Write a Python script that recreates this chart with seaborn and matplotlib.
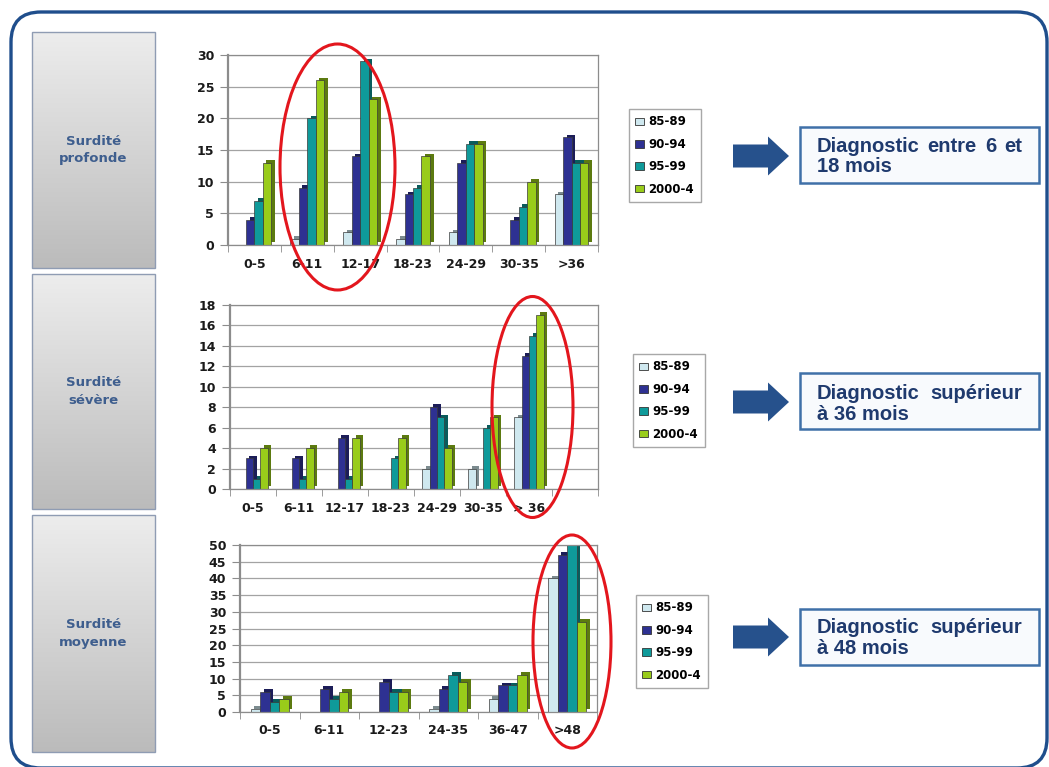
import numpy as np
import pandas as pd
import matplotlib
matplotlib.use("Agg")
import matplotlib.pyplot as plt
import matplotlib.patheffects as pe
from matplotlib.patches import FancyBboxPatch, Ellipse, FancyArrow, Rectangle, Patch
from matplotlib.colors import to_rgb, LinearSegmentedColormap
import seaborn as sns

# ---------------------------------------------------------------- data
periods = ["85-89", "90-94", "95-99", "2000-4"]
palette = ["#CFE8EF", "#2E3192", "#0F9A9A", "#99CC1A"]

prof_cats = ["0-5", "6-11", "12-17", "18-23", "24-29", "30-35", ">36"]
prof_8589 = [0, 1, 2, 1, 2, 0, 8]
prof_9094 = [4, 9, 14, 8, 13, 4, 17]
prof_9599 = [7, 20, 29, 9, 16, 6, 13]
prof_2000 = [13, 26, 23, 14, 16, 10, 13]

sev_cats = ["0-5", "6-11", "12-17", "18-23", "24-29", "30-35", "> 36", " "]
sev_8589 = [0, 0, 0, 0, 2, 2, 7, 0]
sev_9094 = [3, 3, 5, 0, 8, 0, 13, 0]
sev_9599 = [1, 1, 1, 3, 7, 6, 15, 0]
sev_2000 = [4, 4, 5, 5, 4, 7, 17, 0]

moy_cats = ["0-5", "6-11", "12-23", "24-35", "36-47", ">48"]
moy_8589 = [1, 0, 0, 1, 4, 40]
moy_9094 = [6, 7, 9, 7, 8, 47]
moy_9599 = [3, 4, 6, 11, 8, 50]
moy_2000 = [4, 6, 6, 9, 11, 27]

row_labels = ["Surdité\nprofonde", "Surdité\nsévère", "Surdité\nmoyenne"]
notes = [("Diagnostic entre 6 et", "18 mois"),
         ("Diagnostic supérieur", "à 36 mois"),
         ("Diagnostic supérieur", "à 48 mois")]

# ---------------------------------------------------------------- layout
W, H = 1049, 767
fig = plt.figure(figsize=(W / 100, H / 100), dpi=100)
fig.patch.set_facecolor("white")

NAVY = "#1F4E8C"
TXT = "#1F3A6E"


def px_axes(x0, y0, x1, y1, **kw):
    return fig.add_axes([x0 / W, 1 - y1 / H, (x1 - x0) / W, (y1 - y0) / H], **kw)


# background layer in pixel units
bg = px_axes(0, 0, W, H, zorder=0)
bg.set_xlim(0, W)
bg.set_ylim(H, 0)
bg.axis("off")

grey_grad = LinearSegmentedColormap.from_list("g", ["#EDEDED", "#BBBBBB"])
grad = np.linspace(0, 1, 256).reshape(-1, 1)
label_boxes = [(32, 32, 155, 268), (32, 274, 155, 509), (32, 515, 155, 752)]
for (x0, y0, x1, y1), lab in zip(label_boxes, row_labels):
    bg.imshow(grad, extent=(x0, x1, y1, y0), aspect="auto", cmap=grey_grad,
              origin="upper", zorder=1)
    bg.add_patch(Rectangle((x0, y0), x1 - x0, y1 - y0, fill=False,
                           ec="#8F9CB3", lw=1.0, zorder=2))
    bg.text((x0 + x1) / 2, (y0 + y1) / 2, lab, ha="center", va="center",
            fontsize=9.5, fontweight="bold", color="#3E5E8E",
            linespacing=1.45, zorder=3)

bg.add_patch(FancyBboxPatch((11, 12), 1036, 756,
                            boxstyle="round,pad=0,rounding_size=30",
                            fill=False, ec=NAVY, lw=2.4, zorder=4))
bg.set_xlim(0, W)
bg.set_ylim(H, 0)

legend_handles = [Patch(facecolor=c, edgecolor="#333333", lw=0.6) for c in palette]


def draw_chart(box, cats, series, ymax, step, legend_xy):
    ax = px_axes(*box, zorder=2)
    df = pd.DataFrame({
        "age": np.tile(cats, len(periods)),
        "period": np.repeat(periods, len(cats)),
        "n": np.concatenate(series),
    })
    sns.barplot(data=df, x="age", y="n", hue="period", order=cats,
                hue_order=periods, palette=palette, saturation=1,
                width=0.64, errorbar=None, edgecolor="#3A3A3A",
                linewidth=0.5, legend=False, ax=ax)
    # pseudo-3D depth on each bar
    for bar in ax.patches:
        r, g, b = to_rgb(bar.get_facecolor())
        dark = (r * 0.6, g * 0.6, b * 0.6)
        bar.set_path_effects([
            pe.SimplePatchShadow(offset=(2.6, 2.0), shadow_rgbFace=dark, alpha=1),
            pe.Normal()])
    n = len(cats)
    ax.set_xlim(-0.5, n - 0.5)
    ax.set_ylim(0, ymax)
    ax.set_yticks(np.arange(0, ymax + 0.1, step))
    ax.set_xticks(range(n))
    ax.set_xticklabels(cats)
    ax.set_xticks(np.arange(-0.5, n), minor=True)
    ax.tick_params(axis="x", which="major", length=0, pad=9,
                   labelsize=9, labelcolor="#1A1A1A")
    ax.tick_params(axis="x", which="minor", length=5, color="#8C8C8C")
    ax.tick_params(axis="y", length=6, color="#8C8C8C", pad=4,
                   labelsize=9, labelcolor="#1A1A1A")
    for t in ax.get_xticklabels() + ax.get_yticklabels():
        t.set_fontweight("bold")
    ax.set_axisbelow(True)
    ax.yaxis.grid(True, color="#A3A3A3", lw=0.9)
    for s in ax.spines.values():
        s.set_color("#8C8C8C")
        s.set_linewidth(0.9)
    ax.spines["left"].set_linewidth(1.6)
    ax.set_xlabel("")
    ax.set_ylabel("")
    ax.set_facecolor("white")

    fig.legend(legend_handles, periods, loc="upper left",
               bbox_to_anchor=(legend_xy[0] / W, 1 - legend_xy[1] / H),
               bbox_transform=fig.transFigure, frameon=True, fancybox=False,
               edgecolor="#A8A8A8", framealpha=1,
               prop={"size": 8.5, "weight": "bold"}, handlelength=0.75,
               handleheight=0.6, handletextpad=0.35, labelspacing=0.8,
               borderpad=0.55, borderaxespad=0)
    return ax


draw_chart((228, 55, 598, 245), prof_cats,
           [prof_8589, prof_9094, prof_9599, prof_2000], 30, 5, (629, 109))
draw_chart((230, 305, 598, 489), sev_cats,
           [sev_8589, sev_9094, sev_9599, sev_2000], 18, 2, (633, 354))
draw_chart((240, 545, 597, 712), moy_cats,
           [moy_8589, moy_9094, moy_9599, moy_2000], 50, 5, (636, 595))

# foreground layer: highlight ellipses, arrows and notes
fg = px_axes(0, 0, W, H, zorder=10)
fg.set_xlim(0, W)
fg.set_ylim(H, 0)
fg.axis("off")
fg.patch.set_alpha(0)

for (cx, cy, ew, eh) in [(337.5, 167, 115, 246), (532.5, 407, 81, 221),
                         (572, 641.5, 78, 213)]:
    fg.add_patch(Ellipse((cx, cy), ew, eh, fill=False, ec="#E3161D", lw=2.2))

arrow_y = [156, 402, 637]
for ay in arrow_y:
    fg.add_patch(FancyArrow(733, ay, 56, 0, width=23, head_width=39,
                            head_length=21, length_includes_head=True,
                            fc="#26518C", ec="none"))

note_boxes = [(800, 127, 1039, 183), (800, 373, 1039, 429), (800, 609, 1039, 665)]
base_lines = [(152, 172), (399, 420), (633, 654)]
renderer = fig.canvas.get_renderer()
for (x0, y0, x1, y1), (l1, l2), (b1, b2) in zip(note_boxes, notes, base_lines):
    fg.add_patch(Rectangle((x0, y0), x1 - x0, y1 - y0, fc="#F8FAFD",
                           ec="#3F70A8", lw=1.8))
    # justified first line
    words = l1.split()
    tx0, tx1 = 817, 1022
    texts = [fg.text(0, b1, w, fontsize=14.5, fontweight="bold", color=TXT,
                     family="Liberation Sans", va="baseline", ha="left")
             for w in words]
    widths = [t.get_window_extent(renderer).width for t in texts]
    gap = (tx1 - tx0 - sum(widths)) / (len(words) - 1)
    x = tx0
    for t, w in zip(texts, widths):
        t.set_x(x)
        x += w + gap
    fg.text(tx0, b2, l2, fontsize=14.5, fontweight="bold", color=TXT,
            family="Liberation Sans", va="baseline", ha="left")

fig.savefig("out.png", dpi=100)
